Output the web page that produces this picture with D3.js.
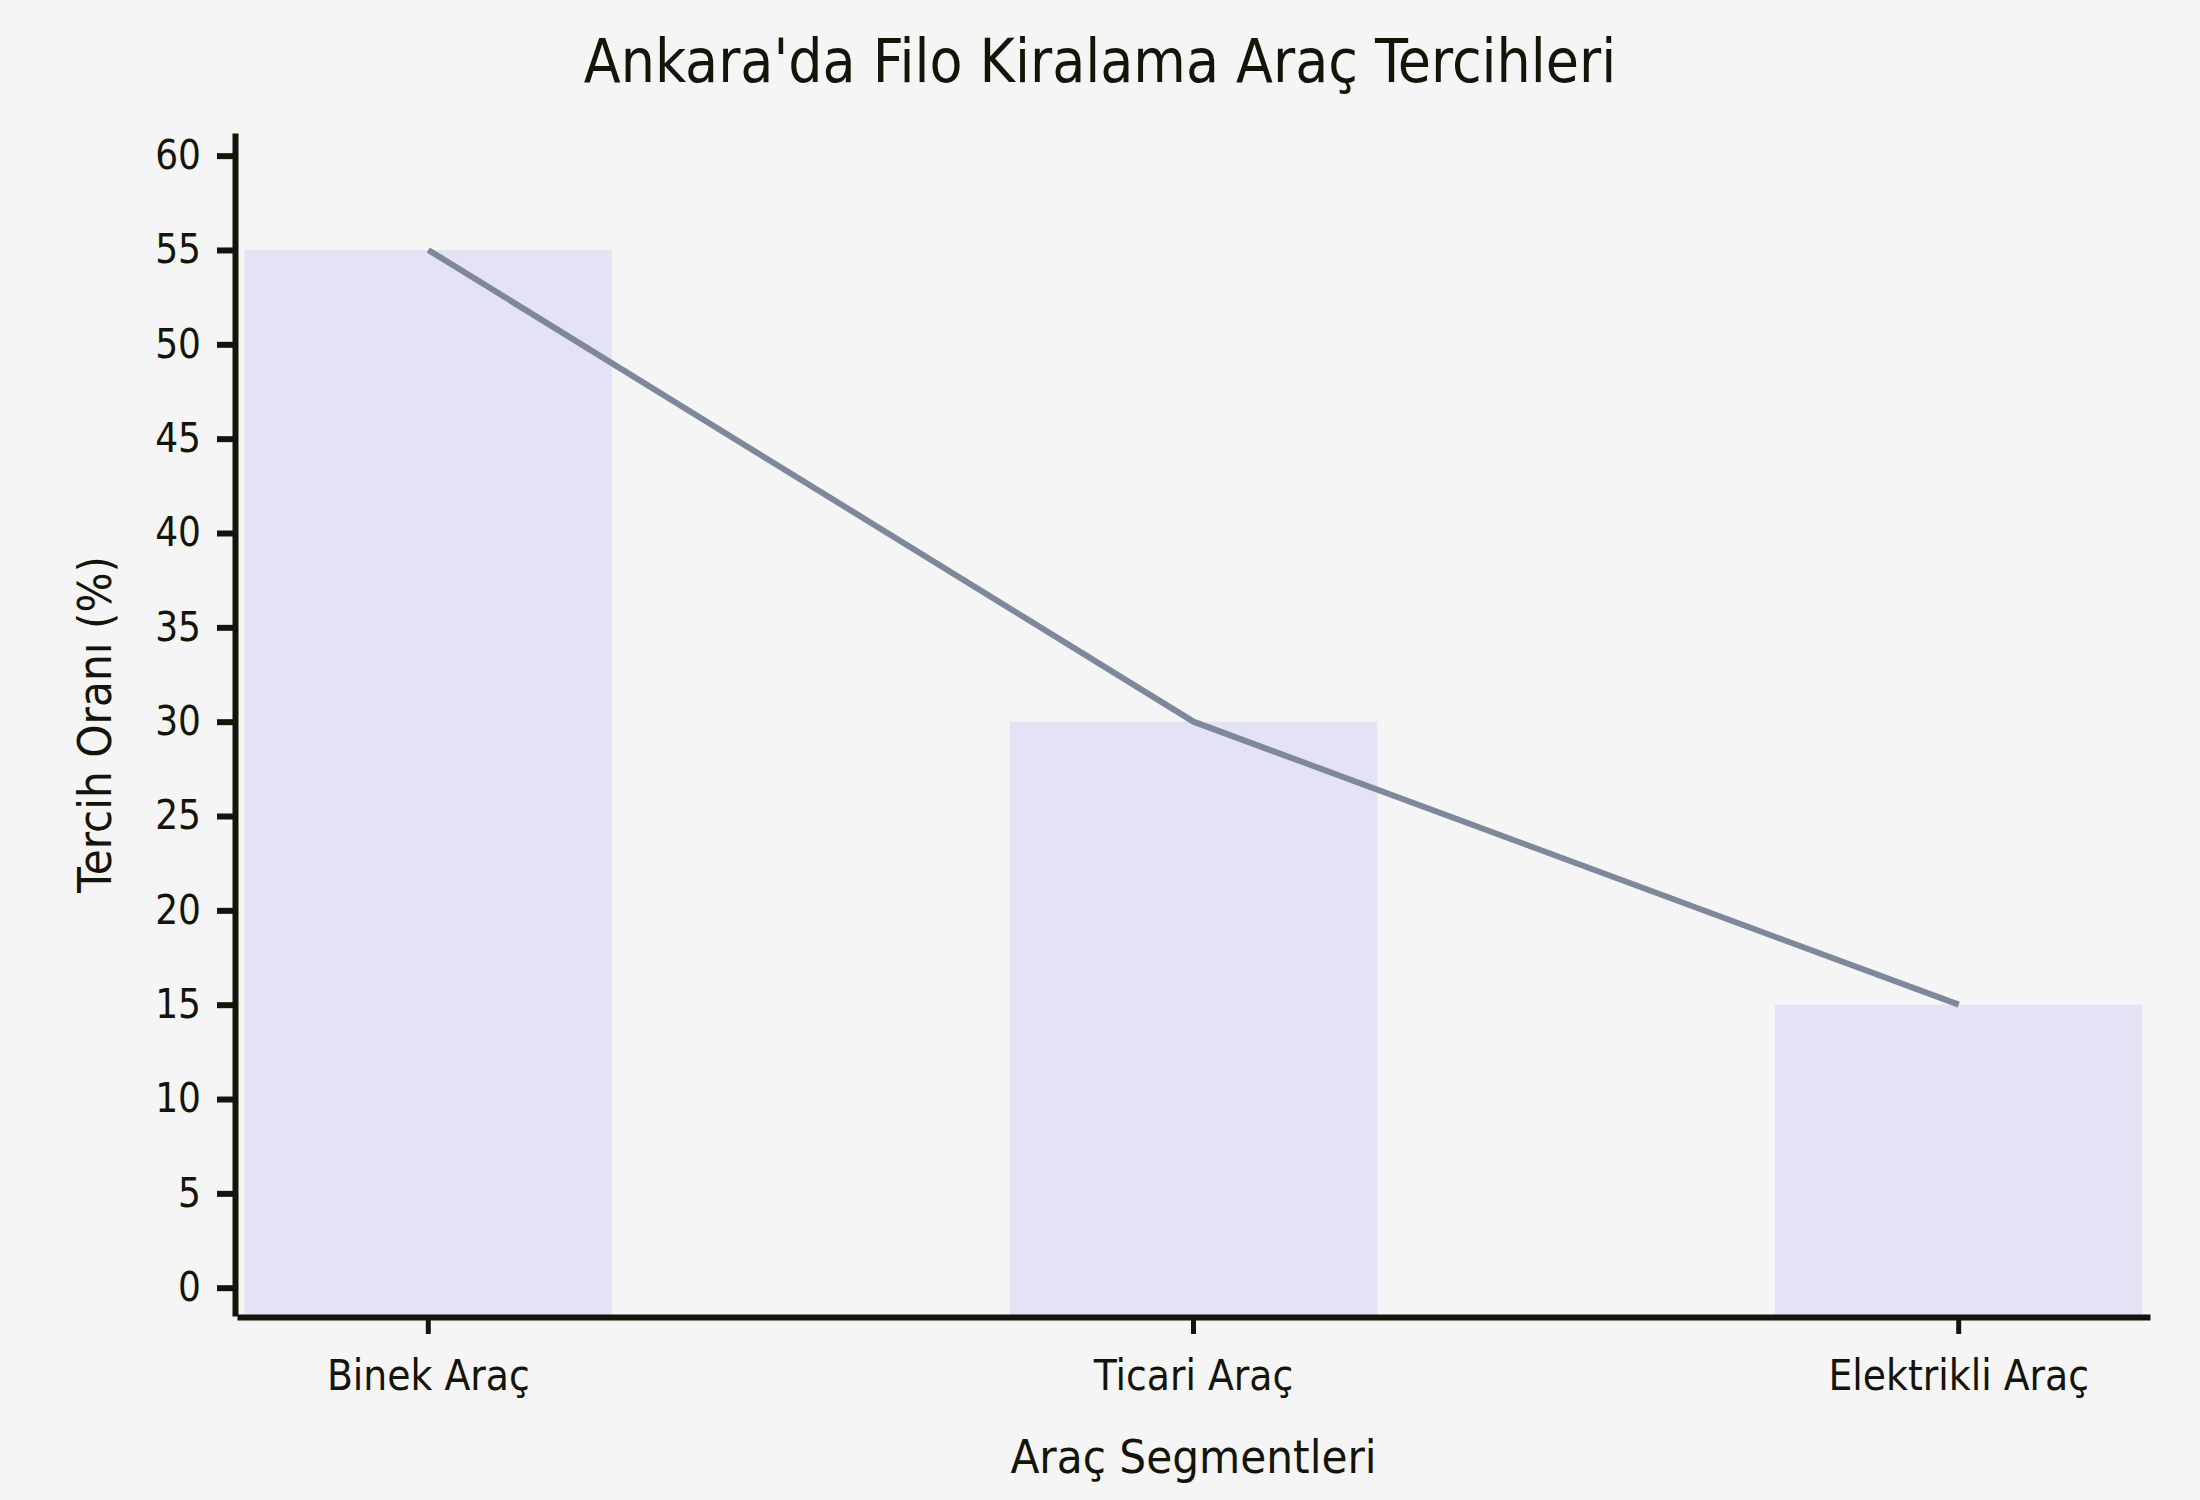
<!DOCTYPE html>
<html lang="tr">
<head>
<meta charset="utf-8">
<script src="https://cdn.jsdelivr.net/npm/d3@7"></script>
<style>
  html, body {
    margin: 0;
    padding: 0;
    background: #f5f5f5;
  }
  #chart text {
    font-family: "DejaVu Sans Condensed", "DejaVu Sans", sans-serif;
    font-stretch: condensed;
    fill: #141408;
  }
  .axis path, .axis line {
    stroke: #141408;
  }
</style>
</head>
<body>
<div id="chart"></div>
<script>
const title = "Ankara'da Filo Kiralama Araç Tercihleri"
const xLabel = 'Araç Segmentleri'
const yLabel = 'Tercih Oranı (%)'
const segments = ['Binek Araç', 'Ticari Araç', 'Elektrikli Araç']
const shares = [55, 30, 15]
const yTicks = [0, 5, 10, 15, 20, 25, 30, 35, 40, 45, 50, 55, 60]

const width = 2200
const height = 1500
const margin = { top: 133, right: 50, bottom: 184, left: 237 }

const svg = d3.select('#chart')
  .append('svg')
  .attr('width', width)
  .attr('height', height)

svg.append('rect')
  .attr('width', width)
  .attr('height', height)
  .attr('fill', '#f5f5f5')

const x = d3.scaleBand()
  .domain(segments)
  .range([margin.left, width - margin.right])
  .paddingInner(0.52)
  .paddingOuter(0.01)

const y = d3.scaleLinear()
  .domain([-1.5, 61.2])
  .range([height - margin.bottom, margin.top])

const rows = segments.map((name, i) => ({ name, value: shares[i] }))

// bars start at the bottom of the axis, not at zero
svg.selectAll('rect.bar')
  .data(rows)
  .enter()
  .append('rect')
  .attr('class', 'bar')
  .attr('x', d => x(d.name))
  .attr('y', d => y(d.value))
  .attr('width', x.bandwidth())
  .attr('height', d => y(y.domain()[0]) - y(d.value))
  .attr('fill', '#e3e3f5')

const line = d3.line()
  .x(d => x(d.name) + x.bandwidth() / 2)
  .y(d => y(d.value))

svg.append('path')
  .datum(rows)
  .attr('d', line)
  .attr('fill', 'none')
  .attr('stroke', '#7d889a')
  .attr('stroke-width', 6)

const yAxis = svg.append('g')
  .attr('class', 'axis')
  .attr('transform', `translate(${margin.left - 2},0)`)
  .call(d3.axisLeft(y).tickValues(yTicks).tickSize(18).tickSizeOuter(0).tickPadding(16))
yAxis.select('.domain').attr('stroke-width', 6)
yAxis.selectAll('.tick line').attr('stroke-width', 6)
yAxis.selectAll('.tick text').style('font-size', '40px')

const xAxis = svg.append('g')
  .attr('class', 'axis')
  .attr('transform', `translate(0,${height - margin.bottom + 1})`)
  .call(d3.axisBottom(x).tickSize(17).tickSizeOuter(0).tickPadding(26))
xAxis.select('.domain').attr('stroke-width', 6)
xAxis.selectAll('.tick line').attr('stroke-width', 5)
xAxis.selectAll('.tick text').style('font-size', '42px')

svg.append('text')
  .attr('x', width / 2)
  .attr('y', 82)
  .attr('text-anchor', 'middle')
  .style('font-size', '60px')
  .text(title)

svg.append('text')
  .attr('x', (x.range()[0] + x.range()[1]) / 2)
  .attr('y', 1473)
  .attr('text-anchor', 'middle')
  .style('font-size', '47px')
  .text(xLabel)

svg.append('text')
  .attr('transform', `translate(111,${(y.range()[0] + y.range()[1]) / 2}) rotate(-90)`)
  .attr('text-anchor', 'middle')
  .style('font-size', '47px')
  .text(yLabel)
</script>
</body>
</html>
